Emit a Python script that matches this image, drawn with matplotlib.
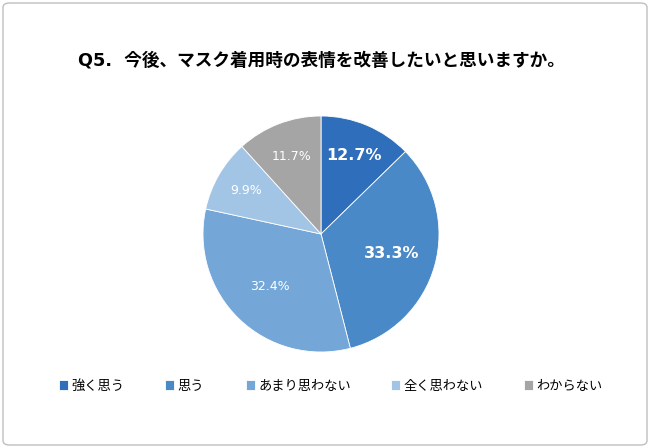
import matplotlib
matplotlib.use("Agg")
import matplotlib.pyplot as plt
from matplotlib.patches import FancyBboxPatch
import numpy as np

plt.rcParams['font.family'] = ['Noto Sans CJK JP', 'DejaVu Sans']

title = "Q5.  今後、マスク着用時の表情を改善したいと思いますか。"
categories = ["強く思う", "思う", "あまり思わない", "全く思わない", "わからない"]
values = [12.7, 33.3, 32.4, 9.9, 11.7]
colors = ["#2E6EBA", "#4A89C8", "#74A7D7", "#A3C5E5", "#A5A5A5"]
label_dist = [0.72, 0.62, 0.62, 0.73, 0.70]
label_size = [11.5, 11.5, 9, 9, 9]
label_bold = [True, True, False, False, False]
legend_x = [59, 165, 246, 391, 524]

W, H = 650, 448
fig = plt.figure(figsize=(W / 100, H / 100), dpi=100)

border = FancyBboxPatch((3 / W, 3 / H), 1 - 6 / W, 1 - 6 / H,
                        boxstyle="round,pad=0,rounding_size=0.01",
                        transform=fig.transFigure, facecolor="none",
                        edgecolor="#BFBFBF", linewidth=1.0, zorder=-1)
fig.patches.append(border)

fig.text(321 / W, 1 - 61 / H, title, ha="center", va="center",
         fontsize=12.7, fontweight="bold", color="#000000",
         family=['DejaVu Sans', 'Noto Sans CJK JP'])

R = 118
ax = fig.add_axes([(321 - R) / W, (H - 234 - R) / H, 2 * R / W, 2 * R / H])
wedges, texts, autotexts = ax.pie(values, colors=colors, startangle=90,
                                  counterclock=False, autopct="%.1f%%",
                                  pctdistance=0.7, radius=1,
                                  wedgeprops=dict(edgecolor="white", linewidth=0.6))
for w, t, d, s, b in zip(wedges, autotexts, label_dist, label_size, label_bold):
    ang = np.deg2rad((w.theta1 + w.theta2) / 2)
    t.set_position((d * np.cos(ang), d * np.sin(ang)))
    t.set_color("white")
    t.set_fontsize(s)
    t.set_family('DejaVu Sans')
    t.set_fontweight("bold" if b else "normal")
ax.set_xlim(-1, 1)
ax.set_ylim(-1, 1)
ax.set_aspect("equal")
ax.axis("off")

for w, cat, x in zip(wedges, categories, legend_x):
    fig.legend([w], [cat], loc="center left", bbox_to_anchor=(x / W, 1 - 386 / H),
               frameon=False, fontsize=9.5, handlelength=0.7, handleheight=0.7,
               handletextpad=0.25, borderpad=0, borderaxespad=0)

fig.savefig("out.png", dpi=100)
